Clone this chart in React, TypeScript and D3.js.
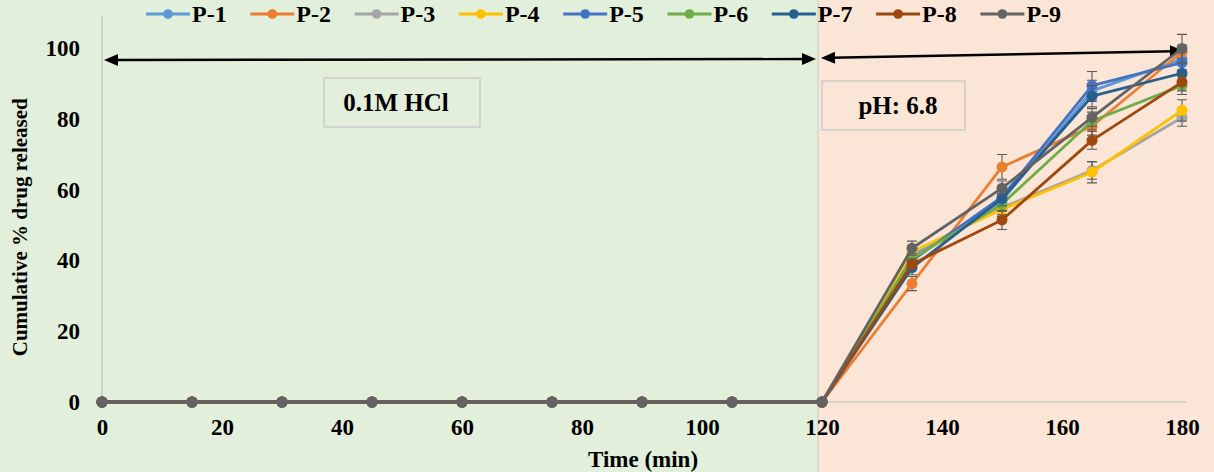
import React, { useRef, useEffect } from "react";
import * as d3 from "d3";

// dissolution profile: 0.1M HCl for 2 h, then pH 6.8 buffer
const times = [0, 15, 30, 45, 60, 75, 90, 105, 120, 135, 150, 165, 180];
const xTicks = [0, 20, 40, 60, 80, 100, 120, 140, 160, 180];
const yTicks = [0, 20, 40, 60, 80, 100];

const names = ["P-1", "P-2", "P-3", "P-4", "P-5", "P-6", "P-7", "P-8", "P-9"];
const colors = ["#5B9BD5", "#ED7D31", "#A5A5A5", "#FFC000", "#4472C4", "#70AD47", "#255E91", "#9E480E", "#636363"];

const p1 = [0, 0, 0, 0, 0, 0, 0, 0, 0, 41, 57, 88, 97];
const p2 = [0, 0, 0, 0, 0, 0, 0, 0, 0, 33.5, 66.5, 78, 99];
const p3 = [0, 0, 0, 0, 0, 0, 0, 0, 0, 42, 55, 65.5, 80.5];
const p4 = [0, 0, 0, 0, 0, 0, 0, 0, 0, 42.5, 54.5, 65, 82.5];
const p5 = [0, 0, 0, 0, 0, 0, 0, 0, 0, 40, 58, 89.5, 96];
const p6 = [0, 0, 0, 0, 0, 0, 0, 0, 0, 40.5, 56, 79.5, 89.5];
const p7 = [0, 0, 0, 0, 0, 0, 0, 0, 0, 38, 57.5, 86.5, 93];
const p8 = [0, 0, 0, 0, 0, 0, 0, 0, 0, 39, 51.5, 74, 90.5];
const p9 = [0, 0, 0, 0, 0, 0, 0, 0, 0, 43.5, 60.5, 80.5, 100];

const p1Err = [0, 0, 0, 0, 0, 0, 0, 0, 0, 2, 2, 3, 3];
const p2Err = [0, 0, 0, 0, 0, 0, 0, 0, 0, 2, 3.5, 2.5, 2];
const p3Err = [0, 0, 0, 0, 0, 0, 0, 0, 0, 1.5, 2, 2.5, 2.5];
const p4Err = [0, 0, 0, 0, 0, 0, 0, 0, 0, 1.5, 2, 3, 3];
const p5Err = [0, 0, 0, 0, 0, 0, 0, 0, 0, 2, 2.5, 4, 3];
const p6Err = [0, 0, 0, 0, 0, 0, 0, 0, 0, 1.5, 2, 2.5, 2.5];
const p7Err = [0, 0, 0, 0, 0, 0, 0, 0, 0, 2, 2, 3, 3];
const p8Err = [0, 0, 0, 0, 0, 0, 0, 0, 0, 1.5, 2.7, 2.5, 2.5];
const p9Err = [0, 0, 0, 0, 0, 0, 0, 0, 0, 2, 2, 2.5, 4];

const values = [p1, p2, p3, p4, p5, p6, p7, p8, p9];
const errors = [p1Err, p2Err, p3Err, p4Err, p5Err, p6Err, p7Err, p8Err, p9Err];

const W = 1214;
const H = 472;
const FONT = "'Liberation Serif', 'Times New Roman', serif";

export default function App() {
  const svgRef = useRef<SVGSVGElement>(null);

  useEffect(() => {
    const svg = d3.select(svgRef.current);
    svg.selectAll("*").remove();

    const x = d3.scaleLinear().domain([0, 180]).range([102, 1182]);
    const y = d3.scaleLinear().domain([0, 100]).range([402, 48.5]);
    const split = 818;

    // background zones
    svg.append("rect").attr("x", 0).attr("y", 0).attr("width", split).attr("height", H).attr("fill", "#E2EFDA");
    svg.append("rect").attr("x", split).attr("y", 0).attr("width", W - split).attr("height", H).attr("fill", "#FBE5D6");
    svg.append("line").attr("x1", split).attr("x2", split).attr("y1", 0).attr("y2", H)
      .attr("stroke", "#c9c9c9").attr("stroke-width", 1);

    // axes
    const xAxis = d3.axisBottom(x).tickValues(xTicks).tickSize(0).tickPadding(17);
    svg.append("g")
      .attr("transform", `translate(0,${y(0)})`)
      .call(xAxis)
      .call((g) => g.select(".domain").remove())
      .call((g) => g.selectAll("text").attr("fill", "#000").attr("font-size", 23)
        .attr("font-weight", "bold").attr("font-family", FONT));

    svg.append("line").attr("x1", x(0)).attr("x2", 1186).attr("y1", y(0)).attr("y2", y(0))
      .attr("stroke", "#bfbfbf").attr("stroke-width", 1.2);
    svg.append("line").attr("x1", x(0)).attr("x2", x(0)).attr("y1", 16).attr("y2", y(0))
      .attr("stroke", "#bfbfbf").attr("stroke-width", 1.2);

    const yAxis = d3.axisLeft(y).tickValues(yTicks).tickSize(0).tickPadding(22);
    svg.append("g")
      .attr("transform", `translate(${x(0)},0)`)
      .call(yAxis)
      .call((g) => g.select(".domain").remove())
      .call((g) => g.selectAll("text").attr("fill", "#000").attr("font-size", 23)
        .attr("font-weight", "bold").attr("font-family", FONT));

    // axis titles
    svg.append("text")
      .attr("x", 643).attr("y", 467)
      .attr("text-anchor", "middle")
      .attr("font-family", FONT).attr("font-weight", "bold").attr("font-size", 23)
      .text("Time (min)");
    svg.append("text")
      .attr("transform", `translate(27,${(y(0) + y(100)) / 2 + 2}) rotate(-90)`)
      .attr("text-anchor", "middle")
      .attr("font-family", FONT).attr("font-weight", "bold").attr("font-size", 21)
      .text("Cumulative % drug released");

    // double-headed arrows marking the two media
    const arrow = (x1: number, y1: number, x2: number, y2: number) => {
      const ang = Math.atan2(y2 - y1, x2 - x1);
      const len = 14;
      const half = 6;
      const head = (tx: number, ty: number, a: number) => {
        const bx = tx - Math.cos(a) * len;
        const by = ty - Math.sin(a) * len;
        const nx = -Math.sin(a) * half;
        const ny = Math.cos(a) * half;
        return `M${tx},${ty}L${bx + nx},${by + ny}L${bx - nx},${by - ny}Z`;
      };
      svg.append("line")
        .attr("x1", x1 + Math.cos(ang) * 10).attr("y1", y1 + Math.sin(ang) * 10)
        .attr("x2", x2 - Math.cos(ang) * 10).attr("y2", y2 - Math.sin(ang) * 10)
        .attr("stroke", "#000").attr("stroke-width", 2.4);
      svg.append("path").attr("d", head(x2, y2, ang) + head(x1, y1, ang + Math.PI)).attr("fill", "#000");
    };
    arrow(104, 60, 816, 59);
    arrow(821, 58, 1184, 51);

    // text boxes
    const boxes = [
      { x: 324, y: 78, w: 156, h: 49, tx: 396, label: "0.1M HCl" },
      { x: 822, y: 81, w: 143, h: 49, tx: 898, label: "pH: 6.8" },
    ];
    boxes.forEach((b) => {
      svg.append("rect").attr("x", b.x).attr("y", b.y).attr("width", b.w).attr("height", b.h)
        .attr("fill", "none").attr("stroke", "#c3c3c3").attr("stroke-width", 1.2);
      svg.append("text").attr("x", b.tx).attr("y", b.y + b.h / 2)
        .attr("dy", "0.35em").attr("text-anchor", "middle")
        .attr("font-family", FONT).attr("font-weight", "bold").attr("font-size", 25)
        .text(b.label);
    });

    // series
    const line = d3.line<number>().x((_, i) => x(times[i])).y((d) => y(d));
    values.forEach((vals, s) => {
      const g = svg.append("g");
      g.append("path").datum(vals)
        .attr("fill", "none").attr("stroke", colors[s]).attr("stroke-width", 2.8)
        .attr("stroke-linejoin", "round").attr("d", line);

      // error bars
      vals.forEach((v, i) => {
        const e = errors[s][i];
        if (!e) return;
        const cx = x(times[i]);
        g.append("path")
          .attr("d", `M${cx},${y(v - e)}V${y(v + e)}M${cx - 5},${y(v - e)}H${cx + 5}M${cx - 5},${y(v + e)}H${cx + 5}`)
          .attr("stroke", "#595959").attr("stroke-width", 1.1).attr("fill", "none");
      });

      g.selectAll("circle").data(vals).join("circle")
        .attr("cx", (_, i) => x(times[i])).attr("cy", (d) => y(d))
        .attr("r", 5.5).attr("fill", colors[s]);
    });

    // legend
    const legend = svg.append("g");
    names.forEach((n, i) => {
      const lx = 146 + i * 104.3;
      const ly = 14;
      legend.append("line").attr("x1", lx).attr("x2", lx + 44).attr("y1", ly).attr("y2", ly)
        .attr("stroke", colors[i]).attr("stroke-width", 2.8);
      legend.append("circle").attr("cx", lx + 22).attr("cy", ly).attr("r", 4.8).attr("fill", colors[i]);
      legend.append("text").attr("x", lx + 46).attr("y", ly).attr("dy", "0.35em")
        .attr("font-family", FONT).attr("font-weight", "bold").attr("font-size", 24)
        .text(n);
    });
  }, []);

  return (
    <svg
      ref={svgRef}
      width={W}
      height={H}
      style={{ position: "absolute", left: 0, top: 0, display: "block" }}
    />
  );
}
